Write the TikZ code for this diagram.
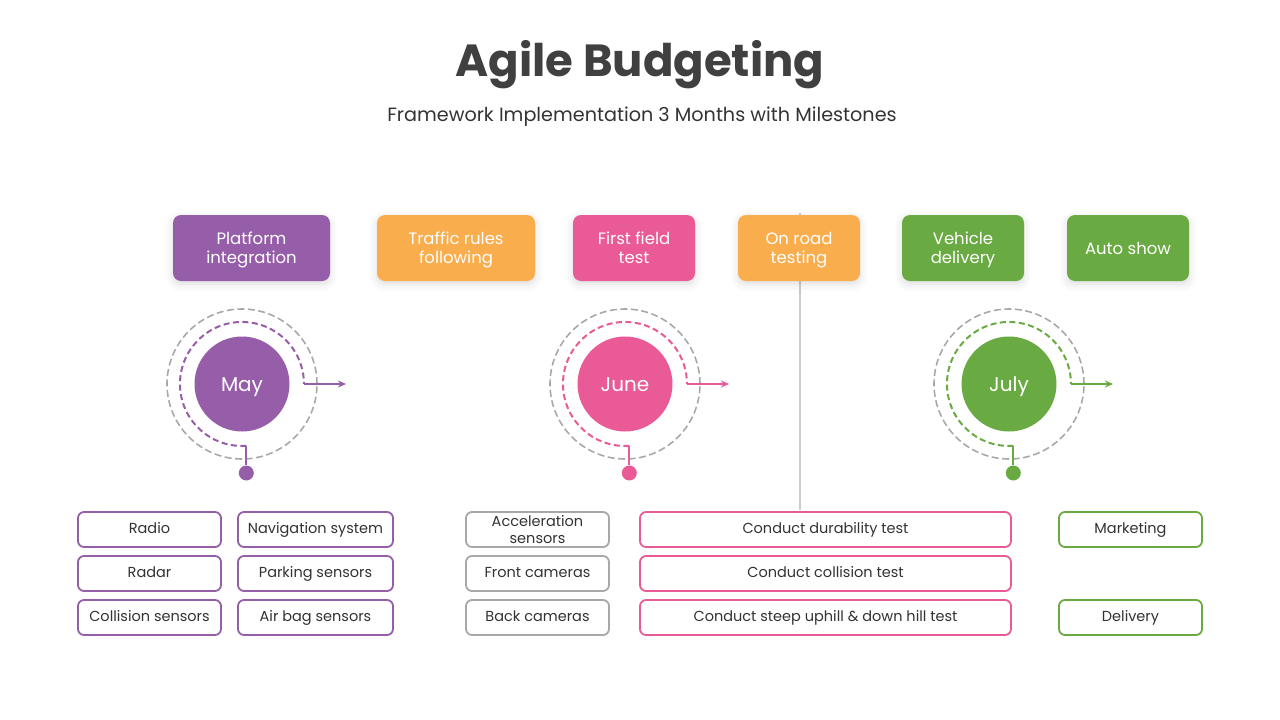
\documentclass[tikz,border=0pt]{standalone}
\usepackage{fontspec}
\setmainfont{Poppins}
\usetikzlibrary{arrows.meta,shadows.blur}

\definecolor{mayc}{HTML}{965EA8}
\definecolor{junec}{HTML}{E95A96}
\definecolor{julyc}{HTML}{69AA43}
\definecolor{roadc}{HTML}{FAAD4D}
\definecolor{ringc}{HTML}{A8A8A8}
\definecolor{textc}{HTML}{333333}
\definecolor{titlec}{HTML}{404040}

\tikzset{
    stagebox/.style={fill=#1, rounded corners=8pt, minimum width=122pt,
        minimum height=66pt, inner sep=0pt, text=white, align=center,
        text depth=0pt, font=\fontsize{16.5}{19}\selectfont,
        blur shadow={shadow xshift=0pt, shadow yshift=-3pt,
            shadow blur radius=8pt, shadow opacity=14}},
    taskbox/.style={draw=#1, line width=1.8pt, rounded corners=6pt,
        fill=white, minimum width=143pt, minimum height=35pt, inner sep=0pt,
        text=textc, align=center, text height=7pt, text depth=0pt,
        font=\fontsize{14.5}{17}\selectfont},
    monthdisc/.style={circle, fill=#1, minimum size=95pt, inner sep=0pt,
        text=white, text height=14pt, text depth=0pt,
        font=\fontsize{20}{22}\selectfont},
    monthdot/.style={circle, fill=#1, minimum size=15pt, inner sep=0pt},
    ring/.style={draw=ringc, line width=1.6pt, dash pattern=on 7pt off 3.5pt},
    trail/.style={draw=#1, line width=2pt, dash pattern=on 6pt off 3.5pt},
    stem/.style={draw=#1, line width=2pt},
    outarrow/.style={draw=#1, line width=2pt, -{Stealth[length=8pt,width=7pt]}}
}

\begin{document}
\begin{tikzpicture}[x=1pt,y=1pt]
    \useasboundingbox (0,0) rectangle (1280,-720);

    \node[font=\fontsize{45}{50}\bfseries\selectfont, text=titlec, anchor=base]
        (title) at (640,-76) {Agile Budgeting};
    \node[font=\fontsize{19.2}{22}\selectfont, text=textc, anchor=base]
        (subtitle) at (642,-121) {Framework Implementation 3 Months with Milestones};

    %% divider behind the milestones
    \coordinate (vtop) at (800,-213);
    \coordinate (vbot) at (800,-510);
    \draw[black!20, line width=1.5pt] (vtop) -- (vbot);

    %% milestones
    \node[stagebox=mayc, minimum width=157pt] (platform) at (251.5,-248) {Platform\\integration};
    \node[stagebox=roadc, minimum width=158pt] (traffic) at (456,-248) {Traffic rules\\following};
    \node[stagebox=junec] (field) at (634,-248) {First field\\test};
    \node[stagebox=roadc] (onroad) at (799,-248) {On road\\testing};
    \node[stagebox=julyc] (vehicle) at (963,-248) {Vehicle\\delivery};
    \node[stagebox=julyc] (autoshow) at (1128,-248) {Auto show};

    %% May
    \node[monthdisc=mayc] (may) at (242,-384) {May};
    \draw[ring] (may.center) circle[radius=75];
    \coordinate (mayfoot) at (246.3,-445.8);
    \coordinate (mayout) at (304,-384);
    \coordinate (mayend) at (346,-384);
    \draw[trail=mayc] (mayfoot) arc[start angle=-86, end angle=-360, radius=62];
    \node[monthdot=mayc] (maydot) at (246.3,-473) {};
    \draw[stem=mayc] (maydot) -- (mayfoot);
    \draw[outarrow=mayc] (mayout) -- (mayend);

    %% June
    \node[monthdisc=junec] (june) at (625,-384) {June};
    \draw[ring] (june.center) circle[radius=75];
    \coordinate (junefoot) at (629.3,-445.8);
    \coordinate (juneout) at (687,-384);
    \coordinate (juneend) at (729,-384);
    \draw[trail=junec] (junefoot) arc[start angle=-86, end angle=-360, radius=62];
    \node[monthdot=junec] (junedot) at (629.3,-473) {};
    \draw[stem=junec] (junedot) -- (junefoot);
    \draw[outarrow=junec] (juneout) -- (juneend);

    %% July
    \node[monthdisc=julyc] (july) at (1009,-384) {July};
    \draw[ring] (july.center) circle[radius=75];
    \coordinate (julyfoot) at (1013.3,-445.8);
    \coordinate (julyout) at (1071,-384);
    \coordinate (julyend) at (1113,-384);
    \draw[trail=julyc] (julyfoot) arc[start angle=-86, end angle=-360, radius=62];
    \node[monthdot=julyc] (julydot) at (1013.3,-473) {};
    \draw[stem=julyc] (julydot) -- (julyfoot);
    \draw[outarrow=julyc] (julyout) -- (julyend);

    %% tasks
    \node[taskbox=mayc] (radio) at (149.5,-529.5) {Radio};
    \node[taskbox=mayc] (radar) at (149.5,-573.5) {Radar};
    \node[taskbox=mayc] (collision) at (149.5,-617.5) {Collision sensors};
    \node[taskbox=mayc, minimum width=155pt] (navigation) at (315.5,-529.5) {Navigation system};
    \node[taskbox=mayc, minimum width=155pt] (parking) at (315.5,-573.5) {Parking sensors};
    \node[taskbox=mayc, minimum width=155pt] (airbag) at (315.5,-617.5) {Air bag sensors};
    %%
    \node[taskbox=ringc, text height=, text depth=0pt] (accel) at (537.5,-529.5) {Acceleration\\sensors};
    \node[taskbox=ringc] (front) at (537.5,-573.5) {Front cameras};
    \node[taskbox=ringc] (back) at (537.5,-617.5) {Back cameras};
    \node[taskbox=junec, minimum width=371pt] (durability) at (825.5,-529.5) {Conduct durability test};
    \node[taskbox=junec, minimum width=371pt] (crash) at (825.5,-573.5) {Conduct collision test};
    \node[taskbox=junec, minimum width=371pt] (uphill) at (825.5,-617.5) {Conduct steep uphill \& down hill test};
    %%
    \node[taskbox=julyc] (marketing) at (1130.5,-529.5) {Marketing};
    \node[taskbox=julyc] (delivery) at (1130.5,-617.5) {Delivery};
\end{tikzpicture}
\end{document}
